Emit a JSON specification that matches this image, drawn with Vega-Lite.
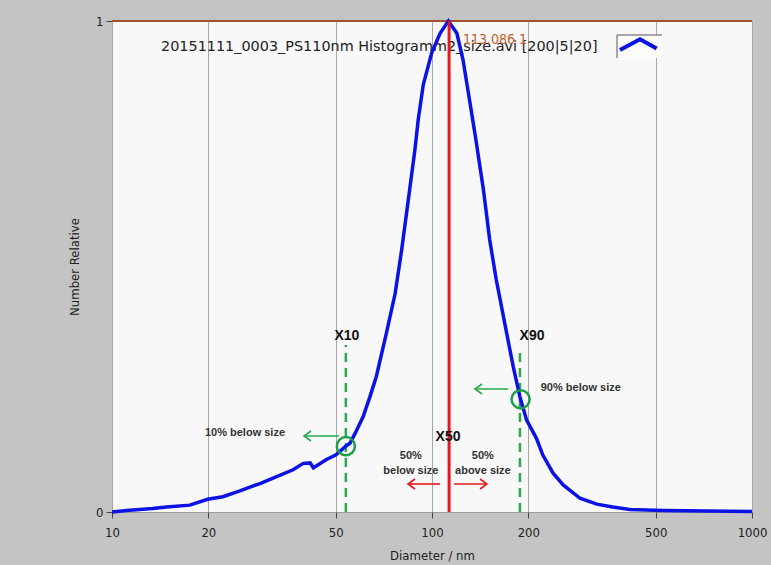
{
  "$schema": "https://vega.github.io/schema/vega-lite/v6.json",
  "width": 640,
  "height": 491,
  "autosize": {"type": "none"},
  "padding": {"left": 112, "top": 21, "right": 19, "bottom": 53},
  "background": "#c4c4c4",
  "view": {"fill": "#f8f8f8", "stroke": "#9a9a9a", "strokeWidth": 1},
  "config": {
    "font": "'DejaVu Sans Condensed', 'DejaVu Sans', sans-serif"
  },
  "datasets": {
    "curve": [
      {"d": 10, "v": 0}, {"d": 11.1, "v": 0.003}, {"d": 13.4, "v": 0.007}, {"d": 14.8, "v": 0.010},
      {"d": 17.5, "v": 0.014}, {"d": 19.9, "v": 0.026}, {"d": 22.2, "v": 0.031}, {"d": 25.1, "v": 0.043},
      {"d": 29, "v": 0.058}, {"d": 32.7, "v": 0.072}, {"d": 36.8, "v": 0.086}, {"d": 39.6, "v": 0.099},
      {"d": 41.6, "v": 0.100}, {"d": 42.6, "v": 0.090}, {"d": 46.8, "v": 0.107}, {"d": 50, "v": 0.116},
      {"d": 53.8, "v": 0.134}, {"d": 55.4, "v": 0.140}, {"d": 57.5, "v": 0.160}, {"d": 60.9, "v": 0.194},
      {"d": 64, "v": 0.235}, {"d": 67, "v": 0.276}, {"d": 72, "v": 0.364}, {"d": 76.7, "v": 0.445},
      {"d": 80.4, "v": 0.534}, {"d": 84.3, "v": 0.635}, {"d": 88.4, "v": 0.737}, {"d": 90.6, "v": 0.800},
      {"d": 93.9, "v": 0.870}, {"d": 99.8, "v": 0.935}, {"d": 106, "v": 0.975}, {"d": 112.5, "v": 1.0},
      {"d": 119.6, "v": 0.975}, {"d": 125, "v": 0.921}, {"d": 131, "v": 0.839}, {"d": 137, "v": 0.760},
      {"d": 144.8, "v": 0.656}, {"d": 151.5, "v": 0.554}, {"d": 158.8, "v": 0.473}, {"d": 168.8, "v": 0.384},
      {"d": 179.4, "v": 0.296}, {"d": 188.2, "v": 0.235}, {"d": 197.6, "v": 0.187}, {"d": 212, "v": 0.150},
      {"d": 222, "v": 0.116}, {"d": 239, "v": 0.079}, {"d": 257, "v": 0.055}, {"d": 290, "v": 0.028},
      {"d": 327, "v": 0.016}, {"d": 367, "v": 0.010}, {"d": 415, "v": 0.005}, {"d": 528, "v": 0.003},
      {"d": 1000, "v": 0.001}
    ],
    "xlines": [
      {"name": "X10", "d": 53.8, "bottom": 0, "top": 0.34},
      {"name": "X90", "d": 188.3, "bottom": 0, "top": 0.33}
    ],
    "circles": [
      {"d": 53.8, "v": 0.134},
      {"d": 189.2, "v": 0.2295}
    ],
    "greenArrows": [
      {"seg": "a1s", "i": 0, "d": 39.81, "v": 0.1548}, {"seg": "a1s", "i": 1, "d": 51.22, "v": 0.1548},
      {"seg": "a1h", "i": 0, "d": 41.87, "v": 0.165}, {"seg": "a1h", "i": 1, "d": 39.81, "v": 0.1548}, {"seg": "a1h", "i": 2, "d": 41.87, "v": 0.1446},
      {"seg": "a2s", "i": 0, "d": 136.2, "v": 0.2505}, {"seg": "a2s", "i": 1, "d": 172.8, "v": 0.2505},
      {"seg": "a2h", "i": 0, "d": 143.3, "v": 0.2607}, {"seg": "a2h", "i": 1, "d": 136.2, "v": 0.2505}, {"seg": "a2h", "i": 2, "d": 143.3, "v": 0.2403}
    ],
    "redArrows": [
      {"seg": "l_s", "i": 0, "d": 84.14, "v": 0.057}, {"seg": "l_s", "i": 1, "d": 105.9, "v": 0.057},
      {"seg": "l_h", "i": 0, "d": 88.49, "v": 0.0672}, {"seg": "l_h", "i": 1, "d": 84.14, "v": 0.057}, {"seg": "l_h", "i": 2, "d": 88.49, "v": 0.0468},
      {"seg": "r_s", "i": 0, "d": 117.2, "v": 0.057}, {"seg": "r_s", "i": 1, "d": 148.5, "v": 0.057},
      {"seg": "r_h", "i": 0, "d": 141.3, "v": 0.0672}, {"seg": "r_h", "i": 1, "d": 148.5, "v": 0.057}, {"seg": "r_h", "i": 2, "d": 141.3, "v": 0.0468}
    ],
    "bigLabels": [
      {"d": 54.2, "v": 0.358, "t": "X10"},
      {"d": 205.4, "v": 0.358, "t": "X90"},
      {"d": 112.2, "v": 0.153, "t": "X50"}
    ],
    "smallLabels": [
      {"d": 26.04, "v": 0.160, "t": "10% below size"},
      {"d": 291.7, "v": 0.252, "t": "90% below size"},
      {"d": 85.9, "v": 0.114, "t": "50%"},
      {"d": 85.9, "v": 0.0835, "t": "below size"},
      {"d": 144.2, "v": 0.114, "t": "50%"},
      {"d": 144.2, "v": 0.0835, "t": "above size"}
    ],
    "legendBox": [
      {"d": 378.5, "d2": 523.4, "v": 0.9246, "v2": 0.9715}
    ],
    "caret": [
      {"i": 0, "d": 386.7, "v": 0.941},
      {"i": 1, "d": 446.7, "v": 0.963},
      {"i": 2, "d": 503.6, "v": 0.944}
    ],
    "legendText": [
      {"d": 14.23, "v": 0.947, "t": "20151111_0003_PS110nm Histogramm2_size.avi [200|5|20]"}
    ],
    "peakText": [
      {"d": 125, "v": 0.961, "t": "113.086 1"}
    ],
    "x50": [
      {"d": 113.086, "v0": 0, "v1": 1}
    ]
  },
  "encoding": {
    "x": {
      "field": "d", "type": "quantitative",
      "scale": {"type": "log", "domain": [10, 1000], "nice": false},
      "axis": {
        "title": "Diameter / nm",
        "values": [10, 20, 50, 100, 200, 500, 1000],
        "labelExpr": "datum.value",
        "grid": true, "gridColor": "#a6a6a6", "gridWidth": 1,
        "domain": false,
        "ticks": true, "tickSize": 6, "tickColor": "#444", "tickWidth": 1,
        "labelFontSize": 13, "labelColor": "#222", "labelPadding": 8, "labelFlush": false,
        "titleFontSize": 13, "titleFontWeight": "normal", "titleColor": "#222", "titlePadding": 10
      }
    },
    "y": {
      "field": "v", "type": "quantitative",
      "scale": {"domain": [0, 1], "nice": false},
      "axis": {
        "title": "Number Relative",
        "values": [0, 1],
        "format": "d",
        "grid": false, "domain": false,
        "ticks": true, "tickSize": 6, "tickColor": "#444",
        "labelFontSize": 13, "labelColor": "#222", "labelPadding": 3,
        "titleFontSize": 13, "titleFontWeight": "normal", "titleColor": "#222", "titlePadding": 14
      }
    }
  },
  "layer": [
    {
      "data": {"name": "legendText"},
      "mark": {"type": "text", "align": "left", "baseline": "middle", "fontSize": 14.4, "font": "DejaVu Sans", "color": "#222"},
      "encoding": {"text": {"field": "t"}}
    },
    {
      "data": {"name": "legendBox"},
      "mark": {"type": "rect", "fill": "#fbfbfb"},
      "encoding": {"x2": {"field": "d2"}, "y2": {"field": "v2"}}
    },
    {
      "data": {"name": "legendBox"},
      "mark": {"type": "rule", "color": "#8a8a8a", "strokeWidth": 1.5},
      "encoding": {"x2": {"field": "d2"}, "y": {"field": "v2", "type": "quantitative"}}
    },
    {
      "data": {"name": "legendBox"},
      "mark": {"type": "rule", "color": "#8a8a8a", "strokeWidth": 1.5},
      "encoding": {"y2": {"field": "v2"}}
    },
    {
      "data": {"name": "caret"},
      "mark": {"type": "line", "color": "#0a14e0", "strokeWidth": 4},
      "encoding": {"order": {"field": "i", "type": "quantitative"}}
    },
    {
      "data": {"name": "x50"},
      "mark": {"type": "rule", "color": "#a0522d", "strokeWidth": 2},
      "encoding": {"x": {"value": 0}, "x2": {"value": 640}, "y": {"field": "v1", "type": "quantitative"}}
    },
    {
      "data": {"name": "xlines"},
      "mark": {"type": "rule", "color": "#2aa84a", "strokeWidth": 2.5, "strokeDash": [9, 6]},
      "encoding": {"y": {"field": "bottom", "type": "quantitative"}, "y2": {"field": "top"}}
    },
    {
      "data": {"name": "curve"},
      "mark": {"type": "line", "color": "#0b12e6", "strokeWidth": 3.5, "interpolate": "linear"},
      "encoding": {}
    },
    {
      "data": {"name": "peakText"},
      "mark": {"type": "text", "align": "left", "baseline": "middle", "fontSize": 14, "color": "#c0622e"},
      "encoding": {"text": {"field": "t"}}
    },
    {
      "data": {"name": "x50"},
      "mark": {"type": "rule", "color": "#e5181d", "strokeWidth": 3},
      "encoding": {"y": {"field": "v0", "type": "quantitative"}, "y2": {"field": "v1"}}
    },
    {
      "data": {"name": "circles"},
      "mark": {"type": "point", "shape": "circle", "filled": false, "size": 330, "stroke": "#1f9e4a", "strokeWidth": 2.5, "opacity": 1}
    },
    {
      "data": {"name": "greenArrows"},
      "mark": {"type": "line", "color": "#2aa84a", "strokeWidth": 1.6},
      "encoding": {"detail": {"field": "seg"}, "order": {"field": "i", "type": "quantitative"}}
    },
    {
      "data": {"name": "redArrows"},
      "mark": {"type": "line", "color": "#e5181d", "strokeWidth": 1.6},
      "encoding": {"detail": {"field": "seg"}, "order": {"field": "i", "type": "quantitative"}}
    },
    {
      "data": {"name": "bigLabels"},
      "mark": {"type": "text", "align": "center", "baseline": "middle", "fontSize": 14, "fontWeight": "bold", "font": "Liberation Sans", "color": "#111"},
      "encoding": {"text": {"field": "t"}}
    },
    {
      "data": {"name": "smallLabels"},
      "mark": {"type": "text", "align": "center", "baseline": "middle", "fontSize": 11, "fontWeight": "bold", "font": "Liberation Sans", "color": "#333"},
      "encoding": {"text": {"field": "t"}}
    }
  ]
}
